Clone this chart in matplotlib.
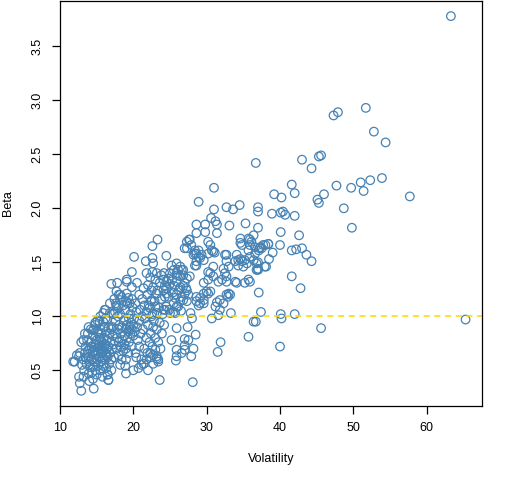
import matplotlib
matplotlib.use("Agg")
import matplotlib.pyplot as plt
import numpy as np

plt.rcParams['font.family'] = ['Liberation Sans', 'DejaVu Sans']

# (volatility, beta) pairs, grouped by region
low_left = [
    (12.0,0.58),(12.3,0.64),(12.6,0.63),(12.7,0.66),(12.6,0.44),(12.7,0.38),(12.9,0.31),(13.0,0.55),
    (13.2,0.60),(13.3,0.50),(13.4,0.66),(13.5,0.72),(13.6,0.56),(13.7,0.78),(13.8,0.84),(13.9,0.62),
    (13.9,0.47),(14.0,0.70),(14.1,0.53),(14.2,0.88),(14.2,0.76),(14.3,0.60),(14.4,0.66),(14.5,0.42),
    (14.5,0.82),(14.6,0.33),(14.6,0.71),(14.7,0.58),(14.8,0.92),(14.8,0.50),(14.9,0.64),(15.0,0.78),
    (15.0,0.46),(15.1,0.86),(15.1,0.68),(15.2,0.55),(15.3,0.74),(15.3,0.62),(15.4,0.95),(15.4,0.80),
    (15.5,0.70),(15.5,0.50),(15.6,0.66),(15.6,0.58),(15.7,0.84),(15.7,0.76),(15.8,0.62),(15.8,0.72),
    (15.9,0.90),(15.9,0.54),(16.0,0.68),(16.0,0.80),(16.1,0.60),(16.1,0.74),(16.2,0.66),(16.2,0.98),
    (16.3,0.86),(16.3,0.52),(16.4,0.70),(16.4,0.78),(16.5,0.46),(16.5,0.62),(16.6,0.41),(16.6,0.72),
    (16.7,0.56),(16.7,0.84),(16.8,0.66),(16.9,0.76),(17.0,0.60),(17.0,0.50),(17.1,0.70),(17.2,0.82),
    (13.5,0.62),(14.0,0.58),(14.3,0.72),(14.7,0.68),(15.0,0.60),(15.2,0.66),(15.4,0.72),(15.6,0.78),
    (15.8,0.66),(16.0,0.56),(16.2,0.74),(16.4,0.64),(14.5,0.54),(14.9,0.74),(15.3,0.84),(15.7,0.70),
    (16.1,0.90),(13.8,0.68),(14.4,0.48),(16.6,0.90),(15.1,0.96),(14.6,0.88),(13.2,0.44),(14.0,0.40),
    (15.8,0.44),(15.5,1.00),(15.9,0.95),(16.4,0.97),(17.5,1.04),(16.2,1.06),
    (16.1,1.06),(15.9,1.03),(16.8,1.03),(14.8,0.94),(14.5,0.87),(13.9,0.90),(13.4,0.84),(13.2,0.78),
    (12.9,0.76),(16.6,0.41),(19.0,0.47),(20.0,0.50),(20.7,0.52),(21.1,0.55),(21.4,0.56),(21.8,0.60),
    (22.7,0.64),(23.2,0.61),(23.4,0.58),(16.5,0.46),(11.8,0.58),
]

mid_left = [
    (17.2,0.90),(17.3,0.74),(17.4,0.62),(17.5,0.84),(17.6,0.96),(17.7,0.70),(17.8,0.80),(17.9,0.88),
    (18.0,0.64),(18.0,0.76),(18.1,0.92),(18.2,1.02),(18.3,0.72),(18.3,0.84),(18.4,0.60),(18.5,0.90),
    (18.5,0.78),(18.6,0.68),(18.7,0.96),(18.8,0.82),(18.8,0.74),(18.9,1.06),(19.0,0.88),(19.0,0.70),
    (19.1,0.92),(19.2,0.80),(19.2,1.12),(19.3,0.86),(19.4,0.98),(19.4,0.76),(19.5,0.90),(19.6,0.84),
    (19.6,1.02),(19.7,0.94),(19.8,0.88),(19.8,0.72),(19.9,1.08),(20.0,0.82),(20.0,0.92),(20.1,0.98),
    (20.2,0.86),(20.3,0.66),(20.4,1.04),(20.5,0.90),(20.6,0.78),(20.8,0.96),(21.0,0.84),(19.0,0.60),
    (18.2,0.55),(18.9,0.54),(19.3,0.66),(17.9,1.00),(18.6,1.10),(19.0,1.14),(19.5,1.12),(18.0,1.08),
    (17.6,1.12),(18.4,1.18),(19.8,1.16),(20.3,1.12),(17.3,1.02),(17.0,0.88),
    (17.0,1.30),(17.8,1.31),(19.1,1.32),(19.8,1.27),(20.5,1.31),(21.4,1.26),(22.0,1.29),(22.5,1.24),
    (17.7,1.23),(18.2,1.20),(19.1,1.21),(19.3,1.17),(19.8,1.41),(21.7,1.51),(22.6,1.54),(22.7,1.49),
    (20.1,1.55),(22.6,1.41),(21.8,1.40),(23.2,1.40),(16.8,1.12),(17.4,1.16),(20.8,1.20),(21.2,1.16),
    (21.5,1.10),(20.9,1.06),(21.8,1.04),(21.2,1.00),(22.2,1.08),(22.6,1.02),(22.4,1.14),(21.9,1.20),
    (18.0,1.20),(18.2,1.15),(17.7,1.10),(19.1,1.34),
]

center = [
    (23.0,0.69),(23.2,0.63),(23.4,0.60),(22.7,0.56),(22.3,0.66),(23.9,0.84),(23.6,0.94),(22.7,0.90),
    (22.5,1.00),(23.2,1.03),(23.0,1.09),(22.5,1.15),(23.2,1.21),(24.1,1.24),(24.3,1.18),(22.7,1.27),
    (23.6,1.31),(24.5,1.32),(21.5,0.70),(21.8,0.80),(22.0,0.92),(22.2,0.76),(22.4,0.84),(22.6,0.72),
    (22.8,0.96),(23.0,0.80),(23.2,0.88),(23.4,0.76),(21.6,0.98),(22.1,1.10),(22.9,1.14),(23.5,1.08),
    (23.8,1.16),(24.0,1.02),(23.3,1.24),(22.3,1.36),(23.0,1.34),(23.8,1.38),(24.3,1.28),(22.4,0.62),
    (21.9,0.66),(23.7,0.70),(24.2,0.92),(21.3,0.88),(20.8,0.72),(21.1,0.60),(21.4,0.56),(22.0,0.50),
    (20.4,0.62),(23.6,0.41),(28.1,0.39),
    (24.6,1.26),(25.0,1.30),(25.3,1.34),(25.6,1.28),(25.9,1.32),(26.2,1.24),(25.4,1.22),(24.8,1.18),
    (26.0,1.38),(24.2,1.40),(25.5,1.12),(26.8,1.28),(27.2,1.26),(27.5,1.20),(26.5,1.05),(24.9,1.06),
    (24.5,1.56),(25.2,1.47),(25.9,1.49),(26.4,1.46),(26.6,1.43),(25.0,1.40),(24.8,1.35),(24.1,1.34),
    (25.5,1.43),(25.9,1.40),(26.4,1.37),(26.8,1.38),(27.3,1.35),(27.7,1.37),(26.1,1.43),(26.8,1.43),
    (25.9,1.09),(26.4,1.14),(26.6,1.18),(27.3,1.24),(27.0,1.31),(26.4,1.27),(25.5,1.04),(24.5,1.09),
    (24.1,1.06),(27.0,1.21),(26.8,1.15),(27.3,1.14),(26.1,1.09),(25.7,1.03),(25.0,1.03),(24.3,1.06),
    (24.5,1.21),(25.7,1.17),(25.9,1.20),
    (25.9,0.89),(27.4,0.90),(28.5,0.83),(25.2,0.78),(27.0,0.79),(27.5,0.78),(27.0,0.73),(27.0,0.69),
    (26.6,0.66),(25.9,0.69),(25.9,0.63),(28.2,0.70),(27.9,0.63),(25.8,0.59),(31.9,0.76),(31.5,0.67),
    (35.7,0.81),(30.7,0.98),(31.6,1.01),(33.3,1.03),(33.2,1.20),(32.9,1.18),(31.4,1.13),(31.2,1.09),
    (32.3,1.12),(30.2,1.21),(30.0,1.23),(29.1,1.12),(28.6,1.18),(29.6,1.15),(27.8,1.03),(28.0,0.98),
    (28.6,1.14),(28.9,1.10),(29.6,1.12),(31.8,1.15),(32.7,1.20),(33.0,1.21),(31.8,1.06),(29.1,1.17),
    (29.6,1.21),(30.5,1.23),
]

upper_mid = [
    (23.3,1.71),(22.6,1.65),(27.6,1.71),(27.3,1.69),(27.7,1.71),(27.9,1.66),(28.4,1.61),(28.6,1.58),
    (28.2,1.57),(27.3,1.63),(27.0,1.63),(28.6,1.47),(28.9,1.55),
    (31.0,2.19),(28.9,2.06),(31.0,1.99),(32.7,2.01),(33.6,1.99),(34.5,2.03),(30.6,1.91),(31.2,1.88),
    (31.4,1.85),(31.4,1.77),(29.8,1.85),(29.8,1.78),(28.6,1.85),(28.6,1.77),(33.1,1.84),(35.3,1.86),
    (34.6,1.72),(35.7,1.72),(35.9,1.71),(36.4,1.75),(36.1,1.69),(35.9,1.66),(36.6,1.64),(37.3,1.64),
    (37.5,1.63),(38.0,1.66),(38.4,1.67),(37.1,1.61),(34.8,1.66),(35.7,1.61),(34.6,1.68),
    (30.2,1.69),(30.5,1.66),(30.7,1.61),(30.9,1.60),(31.1,1.59),(30.2,1.58),(28.9,1.61),(28.4,1.58),
    (29.3,1.57),(29.1,1.54),(29.6,1.52),(28.6,1.51),(28.4,1.47),
    (32.5,1.57),(32.7,1.51),(33.0,1.46),(32.3,1.44),(32.5,1.40),(32.7,1.37),(32.1,1.34),(32.7,1.57),
    (34.1,1.57),(33.9,1.51),(34.3,1.52),(34.6,1.53),(34.8,1.51),(35.2,1.52),(35.0,1.46),(35.5,1.49),
    (34.3,1.47),(35.9,1.55),(36.8,1.49),(37.0,1.44),(37.9,1.46),(36.8,1.43),(36.4,1.52),(36.6,1.58),
    (30.5,1.40),(30.9,1.37),(30.2,1.34),(31.6,1.32),(32.7,1.32),(33.9,1.32),(35.2,1.31),(35.7,1.34),
    (29.6,1.31),(30.2,1.41),(30.9,1.46),(34.1,1.31),(35.9,1.32),
]

right = [
    (63.3,3.78),(51.7,2.93),(47.3,2.86),(47.9,2.89),(52.8,2.71),(54.4,2.61),(36.7,2.42),(43.0,2.45),
    (45.3,2.48),(45.6,2.49),(44.3,2.37),(41.6,2.22),(42.0,2.14),(39.2,2.13),(40.2,2.10),(47.7,2.21),
    (49.7,2.19),(51.0,2.24),(52.3,2.26),(53.9,2.28),(51.4,2.16),(57.7,2.11),(46.0,2.13),(45.1,2.08),
    (45.3,2.05),(48.7,2.00),(37.0,2.01),(37.0,1.97),(38.9,1.95),(40.1,1.96),(40.4,1.97),(40.7,1.94),
    (42.0,1.93),(49.8,1.82),(37.0,1.82),(40.1,1.78),(42.6,1.75),
    (38.4,1.67),(37.7,1.66),(37.2,1.63),(40.0,1.66),(42.2,1.62),(43.0,1.63),(43.6,1.57),(44.3,1.51),
    (39.0,1.59),(38.5,1.53),(37.0,1.50),(37.0,1.43),(38.1,1.46),(41.6,1.37),(42.8,1.26),(37.1,1.22),
    (37.4,1.04),(40.1,1.02),(40.2,0.98),(42.0,1.02),(65.3,0.97),(45.6,0.89),(40.0,0.72),(36.7,0.95),
    (41.6,1.61),(36.4,0.95),
]

groups = [low_left, mid_left, center, upper_mid, right]
volatility = np.array([p[0] for g in groups for p in g])
beta = np.array([p[1] for g in groups for p in g])

fig = plt.figure(figsize=(5.12, 4.80), dpi=100)
ax = fig.add_axes([0.1166, 0.1548, 0.8242, 0.8425])

ax.scatter(volatility, beta, s=38, facecolors='none', edgecolors='#4682B4', linewidths=0.9)
ax.axhline(1.0, color='#FFD700', linestyle=(0, (4, 3)), linewidth=1.1)

ax.set_xlim(9.96, 67.5)
ax.set_ylim(0.172, 3.917)
ax.set_xticks([10, 20, 30, 40, 50, 60])
ax.set_yticks([0.5, 1.0, 1.5, 2.0, 2.5, 3.0, 3.5])
ax.set_yticklabels(['0.5', '1.0', '1.5', '2.0', '2.5', '3.0', '3.5'], rotation=90, va='center')
ax.tick_params(direction='out', length=5.5, width=0.9, labelsize=9, pad=6, colors='black')
for s in ax.spines.values():
    s.set_linewidth(0.9)
ax.set_xlabel('Volatility', fontsize=9, labelpad=14)
ax.set_ylabel('Beta', fontsize=9, labelpad=13)

fig.savefig('out.png', dpi=100)
